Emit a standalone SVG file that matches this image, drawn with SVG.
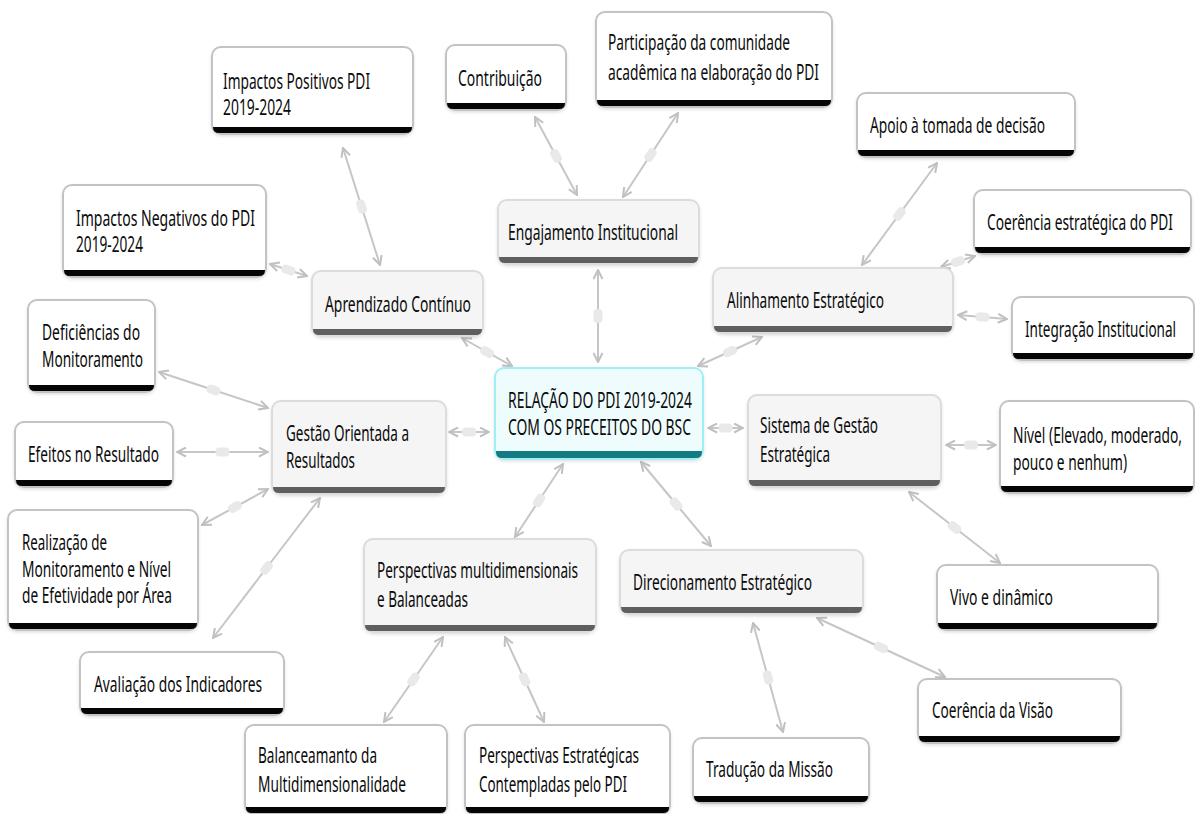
<svg xmlns="http://www.w3.org/2000/svg" width="1195" height="814" viewBox="0 0 1195 814">
  <style>
    text { font-family: "Noto Sans", "Open Sans", "DejaVu Sans", sans-serif; font-size: 21px; fill: #0a0a0a; }
    .box { stroke-width: 2; filter: url(#shadow); }
    .l1 .box { fill: #f5f5f5; stroke: #dcdcdc; }
    .l1 .bar { fill: #5f5f5f; }
    .l2 .box { fill: #ffffff; stroke: #c3c3c3; }
    .l2 .bar { fill: #050505; }
    .center .box { fill: #effcfd; stroke: #9ff0f5; }
    .center .bar { fill: #137b81; }
    .conn path { fill: none; stroke: #c6c6c6; stroke-width: 2; marker-start: url(#arrow); marker-end: url(#arrow); marker-mid: url(#pill); }
  </style>
  <defs>
    <filter id="shadow" x="-5%" y="-5%" width="110%" height="120%">
      <feDropShadow dx="0" dy="1.5" stdDeviation="1.5" flood-color="#000" flood-opacity="0.12"/>
    </filter>
    <marker id="arrow" viewBox="0 0 11 11" refX="10" refY="5.5" markerWidth="11" markerHeight="11" markerUnits="userSpaceOnUse" orient="auto-start-reverse">
      <path d="M1,1 L10,5.5 L1,10" fill="none" stroke="#c0c0c0" stroke-width="2"/>
    </marker>
    <marker id="pill" viewBox="-8 -5 16 10" refX="0" refY="0" markerWidth="16" markerHeight="10" markerUnits="userSpaceOnUse" orient="auto">
      <rect x="-7" y="-4.5" width="14" height="9" rx="4" fill="#e9e9e9"/>
    </marker>
  </defs>

  <rect width="1195" height="814" fill="#ffffff"/>

  <!-- connectors: double-headed links with a handle at the middle -->
  <g id="connectors" class="conn">
    <path d="M598,362 L598,316 L598,270"/>
    <path d="M512,366 L487,352 L462,338"/>
    <path d="M698,366 L730,351.5 L762,337"/>
    <path d="M489,432 L469,432 L449,432"/>
    <path d="M708,428 L725.5,428 L743,428"/>
    <path d="M563,464 L539,500.5 L515,537"/>
    <path d="M641,462 L676,504 L711,546"/>
    <path d="M577,195 L556,156 L535,117"/>
    <path d="M623,197 L650.5,155 L678,113"/>
    <path d="M380,265 L361.5,206.5 L343,148"/>
    <path d="M307,276 L288.5,270 L270,264"/>
    <path d="M862,265 L899.5,214 L937,163"/>
    <path d="M941,267 L958,261.5 L975,256"/>
    <path d="M958,315 L982.5,317 L1007,319"/>
    <path d="M268,408 L213.5,390 L159,372"/>
    <path d="M268,452 L222.5,452 L177,452"/>
    <path d="M268,489 L235,507 L202,525"/>
    <path d="M320,498 L266.5,568 L213,638"/>
    <path d="M946,445 L971,445 L996,445"/>
    <path d="M909,492 L954.5,527.5 L1000,563"/>
    <path d="M817,618 L881,647.5 L945,677"/>
    <path d="M753,623 L768,677.5 L783,732"/>
    <path d="M443,637 L413.5,679.5 L384,722"/>
    <path d="M505,637 L524.5,679.5 L544,722"/>
  </g>

  <!-- central topic -->
  <g id="node-center" class="center">
    <rect class="box" x="495" y="368" width="208" height="91" rx="9"/>
    <path class="bar" d="M496,451 H702 V452 Q702,458 696,458 H502 Q496,458 496,452 Z"/>
    <text transform="translate(508,408) scale(0.65,1)" textLength="283.1" lengthAdjust="spacingAndGlyphs">RELAÇÃO DO PDI 2019-2024</text>
    <text transform="translate(508,435) scale(0.65,1)" textLength="281.5" lengthAdjust="spacingAndGlyphs">COM OS PRECEITOS DO BSC</text>
  </g>

  <!-- main branches -->
  <g id="node-engajamento" class="l1">
    <rect class="box" x="498" y="200" width="201" height="64" rx="9"/>
    <path class="bar" d="M499,257 H698 V257 Q698,263 692,263 H505 Q499,263 499,257 Z"/>
    <text transform="translate(508,240) scale(0.65,1)" textLength="261.5" lengthAdjust="spacingAndGlyphs">Engajamento Institucional</text>
  </g>
  <g id="node-aprendizado" class="l1">
    <rect class="box" x="312" y="271" width="171" height="65" rx="9"/>
    <path class="bar" d="M313,329 H482 V329 Q482,335 476,335 H319 Q313,335 313,329 Z"/>
    <text transform="translate(325,312) scale(0.65,1)" textLength="224.6" lengthAdjust="spacingAndGlyphs">Aprendizado Contínuo</text>
  </g>
  <g id="node-alinhamento" class="l1">
    <rect class="box" x="713" y="268" width="240" height="65" rx="9"/>
    <path class="bar" d="M714,326 H952 V326 Q952,332 946,332 H720 Q714,332 714,326 Z"/>
    <text transform="translate(727,308) scale(0.65,1)" textLength="241.5" lengthAdjust="spacingAndGlyphs">Alinhamento Estratégico</text>
  </g>
  <g id="node-gestao" class="l1">
    <rect class="box" x="272" y="401" width="174" height="93" rx="9"/>
    <path class="bar" d="M273,487 H445 V487 Q445,493 439,493 H279 Q273,493 273,487 Z"/>
    <text transform="translate(286,441) scale(0.65,1)" textLength="189.2" lengthAdjust="spacingAndGlyphs">Gestão Orientada a</text>
    <text transform="translate(286,468) scale(0.65,1)" textLength="106.2" lengthAdjust="spacingAndGlyphs">Resultados</text>
  </g>
  <g id="node-sistema" class="l1">
    <rect class="box" x="748" y="395" width="193" height="92" rx="9"/>
    <path class="bar" d="M749,480 H940 V480 Q940,486 934,486 H755 Q749,486 749,480 Z"/>
    <text transform="translate(760,433) scale(0.65,1)" textLength="181.5" lengthAdjust="spacingAndGlyphs">Sistema de Gestão</text>
    <text transform="translate(760,462) scale(0.65,1)" textLength="107.7" lengthAdjust="spacingAndGlyphs">Estratégica</text>
  </g>
  <g id="node-perspectivas" class="l1">
    <rect class="box" x="364" y="539" width="232" height="93" rx="9"/>
    <path class="bar" d="M365,625 H595 V625 Q595,631 589,631 H371 Q365,631 365,625 Z"/>
    <text transform="translate(377,578) scale(0.65,1)" textLength="309.2" lengthAdjust="spacingAndGlyphs">Perspectivas multidimensionais</text>
    <text transform="translate(377,607) scale(0.65,1)" textLength="140" lengthAdjust="spacingAndGlyphs">e Balanceadas</text>
  </g>
  <g id="node-direcionamento" class="l1">
    <rect class="box" x="620" y="550" width="243" height="64" rx="9"/>
    <path class="bar" d="M621,607 H862 V607 Q862,613 856,613 H627 Q621,613 621,607 Z"/>
    <text transform="translate(633,590) scale(0.65,1)" textLength="275.4" lengthAdjust="spacingAndGlyphs">Direcionamento Estratégico</text>
  </g>

  <!-- sub-topics -->
  <g id="node-impactos-positivos" class="l2">
    <rect class="box" x="212" y="47" width="201" height="87" rx="9"/>
    <path class="bar" d="M213,127 H412 V127 Q412,133 406,133 H219 Q213,133 213,127 Z"/>
    <text transform="translate(223,89) scale(0.65,1)" textLength="226.2" lengthAdjust="spacingAndGlyphs">Impactos Positivos PDI</text>
    <text transform="translate(223,115) scale(0.65,1)" textLength="104.6" lengthAdjust="spacingAndGlyphs">2019-2024</text>
  </g>
  <g id="node-contribuicao" class="l2">
    <rect class="box" x="446" y="45" width="120" height="65" rx="9"/>
    <path class="bar" d="M447,103 H565 V103 Q565,109 559,109 H453 Q447,109 447,103 Z"/>
    <text transform="translate(458,86) scale(0.65,1)" textLength="129.2" lengthAdjust="spacingAndGlyphs">Contribuição</text>
  </g>
  <g id="node-participacao" class="l2">
    <rect class="box" x="596" y="12" width="236" height="95" rx="9"/>
    <path class="bar" d="M597,100 H831 V100 Q831,106 825,106 H603 Q597,106 597,100 Z"/>
    <text transform="translate(608,50) scale(0.65,1)" textLength="280" lengthAdjust="spacingAndGlyphs">Participação da comunidade</text>
    <text transform="translate(608,80) scale(0.65,1)" textLength="324.6" lengthAdjust="spacingAndGlyphs">acadêmica na elaboração do PDI</text>
  </g>
  <g id="node-apoio" class="l2">
    <rect class="box" x="857" y="93" width="218" height="64" rx="9"/>
    <path class="bar" d="M858,150 H1074 V150 Q1074,156 1068,156 H864 Q858,156 858,150 Z"/>
    <text transform="translate(870,133) scale(0.65,1)" textLength="269.2" lengthAdjust="spacingAndGlyphs">Apoio à tomada de decisão</text>
  </g>
  <g id="node-coerencia-estrategica" class="l2">
    <rect class="box" x="974" y="190" width="217" height="64" rx="9"/>
    <path class="bar" d="M975,247 H1190 V247 Q1190,253 1184,253 H981 Q975,253 975,247 Z"/>
    <text transform="translate(987,230) scale(0.65,1)" textLength="286.2" lengthAdjust="spacingAndGlyphs">Coerência estratégica do PDI</text>
  </g>
  <g id="node-integracao" class="l2">
    <rect class="box" x="1012" y="297" width="182" height="63" rx="9"/>
    <path class="bar" d="M1013,353 H1193 V353 Q1193,359 1187,359 H1019 Q1013,359 1013,353 Z"/>
    <text transform="translate(1025,337) scale(0.65,1)" textLength="232.3" lengthAdjust="spacingAndGlyphs">Integração Institucional</text>
  </g>
  <g id="node-impactos-negativos" class="l2">
    <rect class="box" x="63" y="185" width="203" height="92" rx="9"/>
    <path class="bar" d="M64,270 H265 V270 Q265,276 259,276 H70 Q64,276 64,270 Z"/>
    <text transform="translate(76,226) scale(0.65,1)" textLength="275.4" lengthAdjust="spacingAndGlyphs">Impactos Negativos do PDI</text>
    <text transform="translate(76,252) scale(0.65,1)" textLength="103.1" lengthAdjust="spacingAndGlyphs">2019-2024</text>
  </g>
  <g id="node-deficiencias" class="l2">
    <rect class="box" x="28" y="300" width="127" height="92" rx="9"/>
    <path class="bar" d="M29,385 H154 V385 Q154,391 148,391 H35 Q29,391 29,385 Z"/>
    <text transform="translate(42,340) scale(0.65,1)" textLength="150.8" lengthAdjust="spacingAndGlyphs">Deficiências do</text>
    <text transform="translate(42,367) scale(0.65,1)" textLength="155.4" lengthAdjust="spacingAndGlyphs">Monitoramento</text>
  </g>
  <g id="node-efeitos" class="l2">
    <rect class="box" x="15" y="422" width="158" height="65" rx="9"/>
    <path class="bar" d="M16,480 H172 V480 Q172,486 166,486 H22 Q16,486 16,480 Z"/>
    <text transform="translate(28,462) scale(0.65,1)" textLength="201.5" lengthAdjust="spacingAndGlyphs">Efeitos no Resultado</text>
  </g>
  <g id="node-realizacao" class="l2">
    <rect class="box" x="8" y="510" width="190" height="120" rx="9"/>
    <path class="bar" d="M9,623 H197 V623 Q197,629 191,629 H15 Q9,629 9,623 Z"/>
    <text transform="translate(22,550) scale(0.65,1)" textLength="130.8" lengthAdjust="spacingAndGlyphs">Realização de</text>
    <text transform="translate(22,577) scale(0.65,1)" textLength="229.2" lengthAdjust="spacingAndGlyphs">Monitoramento e Nível</text>
    <text transform="translate(22,603) scale(0.65,1)" textLength="230.8" lengthAdjust="spacingAndGlyphs">de Efetividade por Área</text>
  </g>
  <g id="node-avaliacao" class="l2">
    <rect class="box" x="80" y="652" width="204" height="63" rx="9"/>
    <path class="bar" d="M81,708 H283 V708 Q283,714 277,714 H87 Q81,714 81,708 Z"/>
    <text transform="translate(94,692) scale(0.65,1)" textLength="258.5" lengthAdjust="spacingAndGlyphs">Avaliação dos Indicadores</text>
  </g>
  <g id="node-nivel" class="l2">
    <rect class="box" x="1000" y="401" width="194" height="92" rx="9"/>
    <path class="bar" d="M1001,486 H1193 V486 Q1193,492 1187,492 H1007 Q1001,492 1001,486 Z"/>
    <text transform="translate(1013,443) scale(0.65,1)" textLength="260" lengthAdjust="spacingAndGlyphs">Nível (Elevado, moderado,</text>
    <text transform="translate(1013,470) scale(0.65,1)" textLength="175.4" lengthAdjust="spacingAndGlyphs">pouco e nenhum)</text>
  </g>
  <g id="node-vivo" class="l2">
    <rect class="box" x="937" y="565" width="221" height="65" rx="9"/>
    <path class="bar" d="M938,623 H1157 V623 Q1157,629 1151,629 H944 Q938,629 938,623 Z"/>
    <text transform="translate(950,605) scale(0.65,1)" textLength="158.5" lengthAdjust="spacingAndGlyphs">Vivo e dinâmico</text>
  </g>
  <g id="node-coerencia-visao" class="l2">
    <rect class="box" x="918" y="679" width="203" height="64" rx="9"/>
    <path class="bar" d="M919,736 H1120 V736 Q1120,742 1114,742 H925 Q919,742 919,736 Z"/>
    <text transform="translate(932,718) scale(0.65,1)" textLength="186.2" lengthAdjust="spacingAndGlyphs">Coerência da Visão</text>
  </g>
  <g id="node-traducao" class="l2">
    <rect class="box" x="693" y="738" width="176" height="65" rx="9"/>
    <path class="bar" d="M694,796 H868 V796 Q868,802 862,802 H700 Q694,802 694,796 Z"/>
    <text transform="translate(706,777) scale(0.65,1)" textLength="195.4" lengthAdjust="spacingAndGlyphs">Tradução da Missão</text>
  </g>
  <g id="node-balanceamanto" class="l2">
    <rect class="box" x="245" y="725" width="202" height="89" rx="9"/>
    <path class="bar" d="M246,807 H446 V808 Q446,813 440,813 H252 Q246,813 246,808 Z"/>
    <text transform="translate(258,763) scale(0.65,1)" textLength="183.1" lengthAdjust="spacingAndGlyphs">Balanceamanto da</text>
    <text transform="translate(258,792) scale(0.65,1)" textLength="227.7" lengthAdjust="spacingAndGlyphs">Multidimensionalidade</text>
  </g>
  <g id="node-perspectivas-estrategicas" class="l2">
    <rect class="box" x="465" y="725" width="205" height="89" rx="9"/>
    <path class="bar" d="M466,807 H669 V808 Q669,813 663,813 H472 Q466,813 466,808 Z"/>
    <text transform="translate(479,763) scale(0.65,1)" textLength="246.2" lengthAdjust="spacingAndGlyphs">Perspectivas Estratégicas</text>
    <text transform="translate(479,792) scale(0.65,1)" textLength="227.7" lengthAdjust="spacingAndGlyphs">Contempladas pelo PDI</text>
  </g>
</svg>
